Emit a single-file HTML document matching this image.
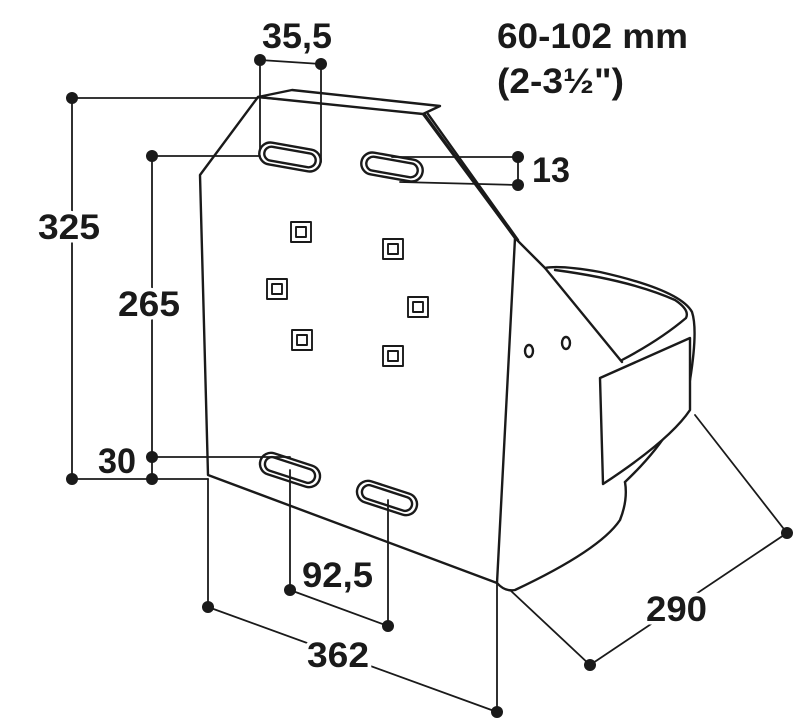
<!DOCTYPE html>
<html><head><meta charset="utf-8"><style>
html,body{margin:0;padding:0;background:#fff;}
svg{display:block}
text{font-family:"Liberation Sans",Arial,sans-serif;font-weight:bold;font-size:35px;fill:#1a1a1a;stroke:#fff;stroke-width:7px;paint-order:stroke;stroke-linejoin:round}
</style></head><body>
<svg width="802" height="721" viewBox="0 0 802 721" xmlns="http://www.w3.org/2000/svg">
<g fill="none" stroke="#1a1a1a" stroke-width="2.4" stroke-linejoin="round" stroke-linecap="round">
<path d="M545,268 Q560,265 600,272 Q680,290 692,312 Q698,330 690,380 Q680,430 625,482"/>
<path d="M555,270 Q630,280 675,300 Q690,310 686,318 Q660,340 622,360"/>
<path d="M515,238 L545,268 L622,362"/>
<path d="M497,583 Q505,592 515,590 Q600,550 620,520 Q628,500 625,482"/>
<path d="M600,378 L690,338 L690,410 Q670,440 603,484 Z" fill="#fff"/>
<path d="M258,97 L200,175 L208,475 L497,583 L515,238 L423,112 Z" fill="#fff"/>
<path d="M258,97 L292,90 L440,106 L423,114 L258,97 Z" fill="#fff"/>
<line x1="423" y1="114" x2="515" y2="238"/>
<line x1="428" y1="114" x2="518" y2="240"/>
<ellipse cx="529" cy="351" rx="4" ry="6"/>
<ellipse cx="566" cy="343" rx="4" ry="6"/>
<g transform="rotate(10 290 157)"><rect x="259" y="146" width="62" height="22" rx="11"/><rect x="264" y="150" width="52" height="14" rx="7"/></g>
<g transform="rotate(10 392 167)"><rect x="361" y="156" width="62" height="22" rx="11"/><rect x="366" y="160" width="52" height="14" rx="7"/></g>
<g transform="rotate(18 290 470)"><rect x="259" y="459" width="62" height="22" rx="11"/><rect x="264" y="463" width="52" height="14" rx="7"/></g>
<g transform="rotate(18 387 498)"><rect x="356" y="487" width="62" height="22" rx="11"/><rect x="361" y="491" width="52" height="14" rx="7"/></g>
<g stroke-width="1.9">
<rect x="291" y="222" width="20" height="20"/><rect x="296" y="227" width="10" height="10"/>
<rect x="383" y="239" width="20" height="20"/><rect x="388" y="244" width="10" height="10"/>
<rect x="267" y="279" width="20" height="20"/><rect x="272" y="284" width="10" height="10"/>
<rect x="408" y="297" width="20" height="20"/><rect x="413" y="302" width="10" height="10"/>
<rect x="292" y="330" width="20" height="20"/><rect x="297" y="335" width="10" height="10"/>
<rect x="383" y="346" width="20" height="20"/><rect x="388" y="351" width="10" height="10"/>
</g>
<g stroke-width="1.8">
<line x1="72" y1="98" x2="72" y2="479"/><line x1="72" y1="98" x2="258" y2="98"/><line x1="72" y1="479" x2="208" y2="479"/>
<line x1="152" y1="156" x2="152" y2="479"/><line x1="152" y1="156" x2="260" y2="156"/>
<line x1="152" y1="457" x2="290" y2="457"/>
<line x1="260" y1="60" x2="321" y2="64"/><line x1="260" y1="60" x2="260" y2="150"/><line x1="321" y1="64" x2="321" y2="162"/>
<line x1="392" y1="157" x2="518" y2="157"/><line x1="400" y1="182" x2="518" y2="185"/><line x1="518" y1="157" x2="518" y2="185"/>
<line x1="290" y1="470" x2="290" y2="590"/><line x1="388" y1="500" x2="388" y2="626"/><line x1="290" y1="590" x2="388" y2="626"/>
<line x1="208" y1="479" x2="208" y2="607"/><line x1="497" y1="583" x2="497" y2="712"/><line x1="208" y1="607" x2="497" y2="712"/>
<line x1="510" y1="590" x2="590" y2="665"/><line x1="695" y1="415" x2="787" y2="533"/><line x1="590" y1="665" x2="787" y2="533"/>
</g>
</g>
<g fill="#1a1a1a">
<circle cx="72" cy="98" r="6"/><circle cx="72" cy="479" r="6"/>
<circle cx="152" cy="156" r="6"/><circle cx="152" cy="479" r="6"/><circle cx="152" cy="457" r="6"/>
<circle cx="260" cy="60" r="6"/><circle cx="321" cy="64" r="6"/>
<circle cx="518" cy="157" r="6"/><circle cx="518" cy="185" r="6"/>
<circle cx="290" cy="590" r="6"/><circle cx="388" cy="626" r="6"/>
<circle cx="208" cy="607" r="6"/><circle cx="497" cy="712" r="6"/>
<circle cx="590" cy="665" r="6"/><circle cx="787" cy="533" r="6"/>
</g>
<text x="262" y="48" textLength="70" lengthAdjust="spacingAndGlyphs">35,5</text>
<text x="497" y="48" textLength="191" lengthAdjust="spacingAndGlyphs">60-102 mm</text>
<text x="497" y="93" textLength="127" lengthAdjust="spacingAndGlyphs">(2-3½")</text>
<text x="532" y="182" textLength="38" lengthAdjust="spacingAndGlyphs">13</text>
<text x="38" y="239" textLength="62" lengthAdjust="spacingAndGlyphs">325</text>
<text x="118" y="316" textLength="62" lengthAdjust="spacingAndGlyphs">265</text>
<text x="98" y="473" textLength="38" lengthAdjust="spacingAndGlyphs">30</text>
<text x="302" y="587" textLength="71" lengthAdjust="spacingAndGlyphs">92,5</text>
<text x="307" y="667" textLength="62" lengthAdjust="spacingAndGlyphs">362</text>
<text x="646" y="621" textLength="61" lengthAdjust="spacingAndGlyphs">290</text>
</svg>
</body></html>
